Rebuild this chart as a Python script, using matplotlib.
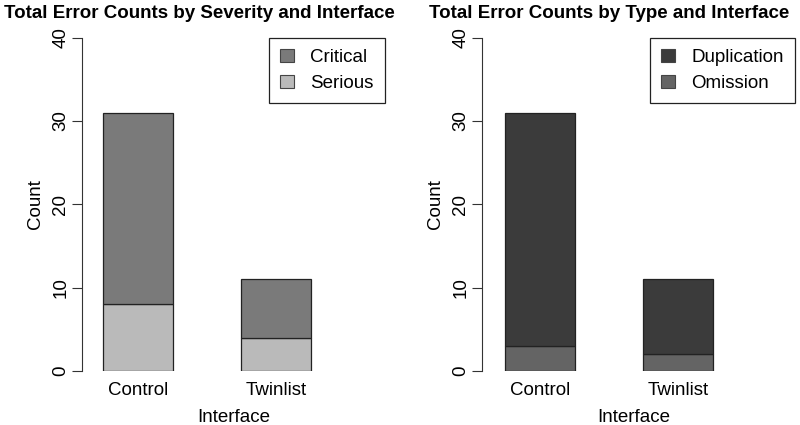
import matplotlib
matplotlib.use("Agg")
import matplotlib.pyplot as plt
from matplotlib.patches import Patch

# ---------------------------------------------------------------------------
# Data
# ---------------------------------------------------------------------------

interfaces = ["Control", "Twinlist"]

# left panel: severity
serious = [8, 4]
critical = [23, 7]

# right panel: type
omission = [3, 2]
duplication = [28, 9]

plt.rcParams["font.family"] = ["Liberation Sans", "DejaVu Sans"]

W, H = 800, 425
FS = 13.5
fig = plt.figure(figsize=(W / 100, H / 100), dpi=100)


def px_axes(x0, x1, y0, y1):
    """Axes from pixel box (top-left origin)."""
    return fig.add_axes([x0 / W, 1 - y1 / H, (x1 - x0) / W, (y1 - y0) / H])


def panel(ax, bottom_vals, top_vals, bottom_color, top_color,
          labels, title, centers_px, left_px, right_px, title_x, legend_right_px):
    # map pixel positions into data units: bar centres at 0 and 1
    span = centers_px[1] - centers_px[0]
    ax.set_xlim((left_px - centers_px[0]) / span, (right_px - centers_px[0]) / span)
    width = 70 / span
    x = [0, 1]
    ax.bar(x, bottom_vals, width=width, color=bottom_color,
           edgecolor="#222222", linewidth=0.9)
    ax.bar(x, top_vals, width=width, bottom=bottom_vals, color=top_color,
           edgecolor="#222222", linewidth=0.9)
    ax.set_ylim(0, 40)
    for s in ["top", "right", "bottom"]:
        ax.spines[s].set_visible(False)
    ax.spines["left"].set_bounds(0, 40)
    ax.spines["left"].set_color("#333333")
    ax.set_yticks([0, 10, 20, 30, 40])
    ax.tick_params(axis="y", length=7, color="#333333", labelsize=FS, pad=2)
    for t in ax.get_yticklabels():
        t.set_rotation(90)
        t.set_va("center")
    ax.set_xticks(x)
    ax.set_xticklabels(interfaces, fontsize=FS)
    ax.tick_params(axis="x", length=0, pad=8)
    ax.set_xlabel("Interface", fontsize=FS, labelpad=7)
    ax.set_ylabel("Count", fontsize=FS, labelpad=6)
    ax.set_title(title, fontsize=FS, fontweight="bold", pad=14, x=title_x)
    handles = [Patch(facecolor=top_color, edgecolor="#444444", linewidth=0.8),
               Patch(facecolor=bottom_color, edgecolor="#444444", linewidth=0.8)]
    anchor_x = (legend_right_px - left_px) / (right_px - left_px)
    leg = ax.legend(handles, labels, loc="upper right", bbox_to_anchor=(anchor_x, 1),
                    borderaxespad=0, fancybox=False, edgecolor="#222222",
                    fontsize=FS, handlelength=0.75, handleheight=0.75,
                    handletextpad=0.85, borderpad=0.6, labelspacing=0.45,
                    framealpha=1)
    leg.get_frame().set_linewidth(0.9)


ax1 = px_axes(82, 385, 37.5, 371)
panel(ax1, serious, critical, "#bababa", "#7a7a7a",
      ["Critical", "Serious"], "Total Error Counts by Severity and Interface",
      (138, 276), 82, 385, (199.5 - 82) / 303, 385)

ax2 = px_axes(482, 785, 37.5, 371)
panel(ax2, omission, duplication, "#646464", "#3b3b3b",
      ["Duplication", "Omission"], "Total Error Counts by Type and Interface",
      (540, 678), 482, 785, (609.5 - 482) / 303, 795)

fig.savefig("out.png", dpi=100)
